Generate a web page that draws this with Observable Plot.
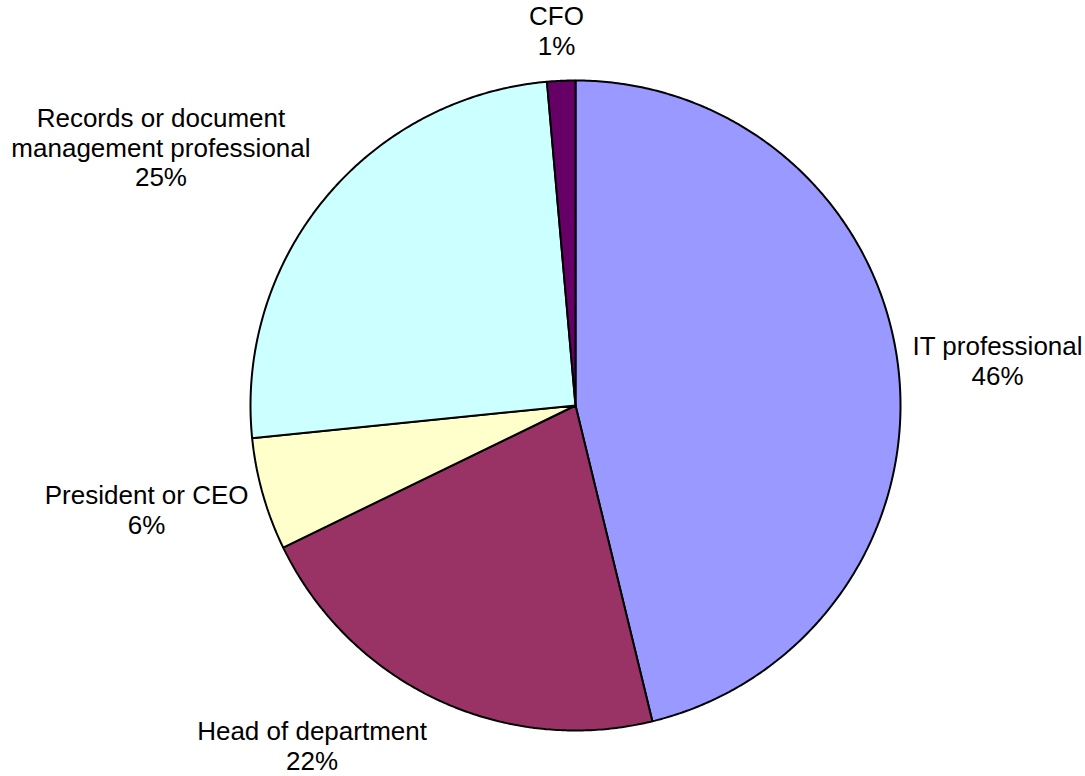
<!DOCTYPE html>
<html>
<head>
<meta charset="utf-8">
<script src="https://cdn.jsdelivr.net/npm/d3@7"></script>
<script src="https://cdn.jsdelivr.net/npm/@observablehq/plot@0.6"></script>
<style>
  html, body { margin: 0; padding: 0; background: #fff; }
  #chart svg { display: block; }
</style>
</head>
<body>
<div id="chart"></div>
<script>
// ---- data ----
const categories = ["IT professional", "Head of department", "President or CEO", "Records or document\nmanagement professional", "CFO"];
const values = [46.2, 21.6, 5.6, 25.2, 1.4];
const colors = ["#9999FF", "#993366", "#FFFFCC", "#CCFFFF", "#660066"];

// ---- layout ----
const W = 1085, H = 776;
const cx = 575, cy = 405, R = 325;
const fontSize = 26;
const fontFamily = "'Liberation Sans', Arial, Helvetica, sans-serif";
const lineH = 1.15;

const total = d3.sum(values);
const canvas = document.createElement("canvas").getContext("2d");
canvas.font = `${fontSize}px ${fontFamily}`;

let acc = 0;
const slices = values.map((v, i) => {
  const a0 = acc / total * 2 * Math.PI;
  acc += v;
  const a1 = acc / total * 2 * Math.PI;
  return {i, v, a0, a1, name: categories[i], color: colors[i]};
});

// polygon points for each slice in data space (origin = pie centre, y downward)
function slicePoints(s) {
  const pts = [{x: 0, y: 0}];
  const n = Math.max(2, Math.ceil((s.a1 - s.a0) / (Math.PI / 360)));
  for (let k = 0; k <= n; k++) {
    const a = s.a0 + (s.a1 - s.a0) * k / n;
    pts.push({x: R * Math.sin(a), y: -R * Math.cos(a)});
  }
  pts.push({x: 0, y: 0});
  return pts;
}

const clamp = (t) => Math.max(-1, Math.min(1, t));
const labels = slices.map(s => {
  const text = `${s.name}\n${Math.round(s.v)}%`;
  const lines = text.split("\n");
  const w = d3.max(lines, l => canvas.measureText(l).width);
  const hw = w / 2;
  const hh = ((lines.length - 1) * lineH * fontSize + 0.72 * fontSize) / 2;
  const am = (s.a0 + s.a1) / 2;
  const dx = Math.sin(am), dy = -Math.cos(am);
  const rl = R + 14 + 12 * dy * dy;
  return {
    text,
    x: rl * dx + hw * clamp(dx * 3),
    y: rl * dy + hh * clamp(dy * 1.7)
  };
});

const marks = slices.map(s => Plot.line(slicePoints(s), {
  x: "x", y: "y", fill: s.color, stroke: "#000", strokeWidth: 2, strokeLinejoin: "miter", curve: "linear"
}));
marks.push(Plot.text(labels, {
  x: "x", y: "y", text: "text", textAnchor: "middle", lineAnchor: "middle",
  lineHeight: lineH, fontSize, fill: "#000"
}));

const chart = Plot.plot({
  width: W, height: H,
  margin: 0,
  style: {background: "#fff", fontFamily, overflow: "visible"},
  x: {domain: [-cx, W - cx], range: [0, W], axis: null},
  y: {domain: [-cy, H - cy], range: [0, H], axis: null},
  marks
});
document.getElementById("chart").appendChild(chart);
</script>
</body>
</html>
